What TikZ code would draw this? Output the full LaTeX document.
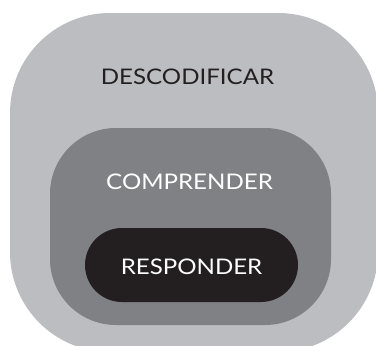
\documentclass[tikz,border=0pt]{standalone}
\usepackage{fontspec}
\setmainfont{Lato}[FakeStretch=1.12]
\definecolor{grisclaro}{HTML}{BCBDC0}
\definecolor{grismedio}{HTML}{808184}
\definecolor{casinegro}{HTML}{231F20}
\begin{document}
\begin{tikzpicture}[x=1pt, y=-1pt,
  etiqueta/.style={font=\fontsize{21.5}{26}\selectfont, inner sep=0pt}]
\useasboundingbox (0,0) rectangle (376,346);
\clip (0,0) rectangle (376,346);
\fill[grisclaro, rounded corners=100pt] (10,13) rectangle (378,352);
\fill[grismedio, rounded corners=66pt] (50,128) rectangle (331,325);
\fill[casinegro, rounded corners=37pt] (85,228) rectangle (298,302);
\node[etiqueta, text=casinegro] (descodificar) at (187.5,77) {DESCODIFICAR};
\node[etiqueta, text=white] (comprender) at (189.5,182) {COMPRENDER};
\node[etiqueta, text=white] (responder) at (191.5,267) {RESPONDER};
\end{tikzpicture}
\end{document}
